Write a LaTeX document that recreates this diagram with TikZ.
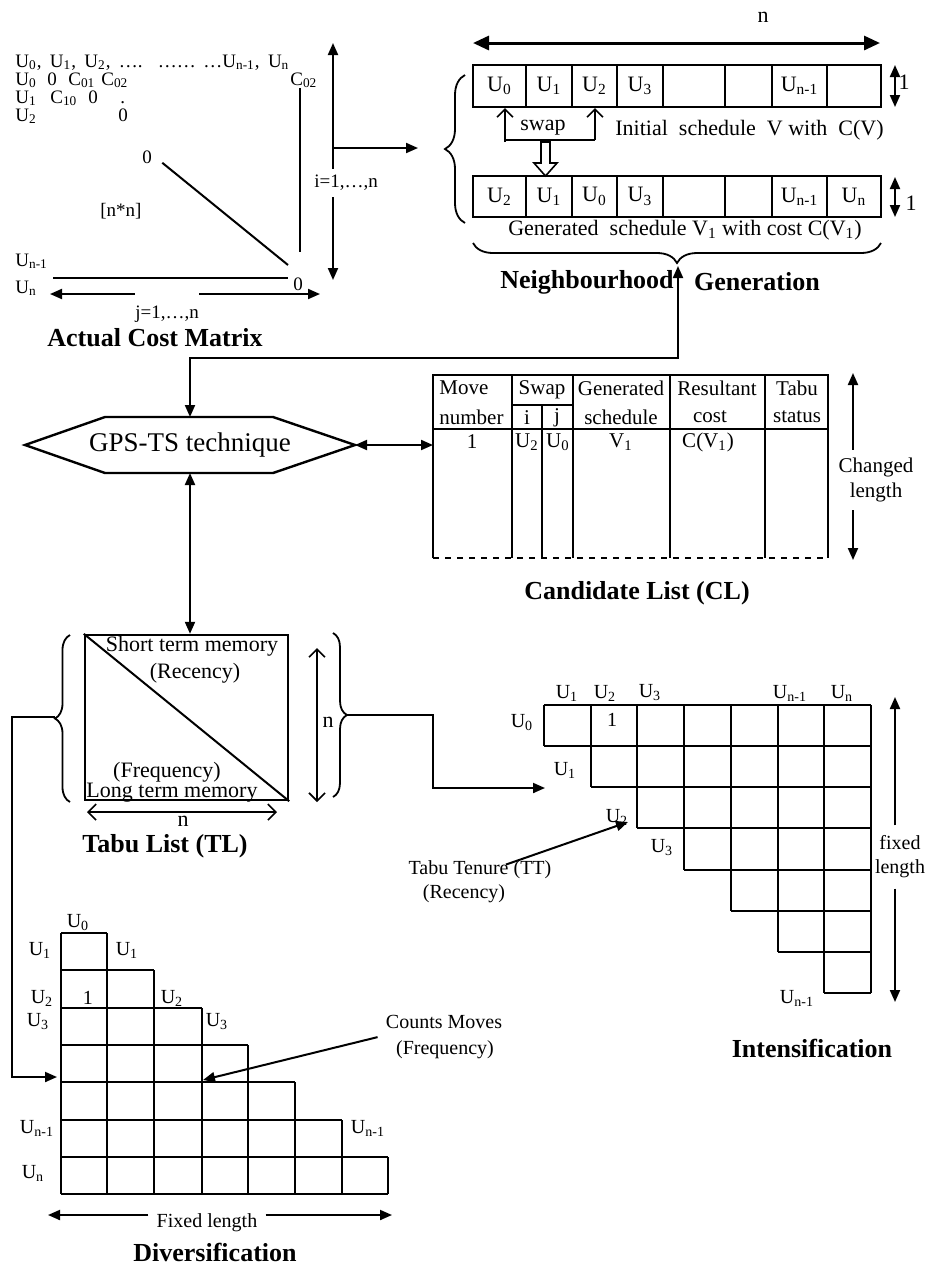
\documentclass[tikz,border=0pt]{standalone}
\usepackage{fontspec}
\setmainfont{Liberation Serif}
\usetikzlibrary{arrows.meta,decorations.pathreplacing}
\newcommand{\Usub}[1]{U\textsubscript{#1}}

\begin{document}
\begin{tikzpicture}[
    x=0.5pt, y=-0.5pt,
    every node/.style={inner sep=0pt, font=\fontsize{11}{13}\selectfont},
    ttl/.style={font=\fontsize{13}{15}\selectfont\bfseries},
    tbl/.style={font=\fontsize{10.5}{12.5}\selectfont},
    mat/.style={font=\fontsize{9.5}{11}\selectfont, anchor=base west},
    glab/.style={font=\fontsize{10}{12}\selectfont},
    cell/.style={draw, line width=1pt, minimum height=21pt},
    conn/.style={line width=1pt},
    gline/.style={line width=0.9pt},
    arr/.style={line width=1pt, -{Triangle[length=6pt,width=5pt]}},
    arrs/.style={line width=1pt, {Triangle[length=6pt,width=5pt]}-{Triangle[length=6pt,width=5pt]}},
    barbs/.style={line width=0.8pt, {Straight Barb[length=4pt,width=8pt]}-{Straight Barb[length=4pt,width=8pt]}},
    barb/.style={line width=0.8pt, -{Straight Barb[length=4pt,width=8pt]}},
    brc/.style={decorate, decoration={brace, amplitude=#1}, line width=0.9pt}
]
\useasboundingbox (0,0) rectangle (936,1266);

% Actual cost matrix
\node[mat] (mhead) at (15,67) {\makebox[137pt][s]{\Usub{0}, \Usub{1}, \Usub{2}, \ldots. \ldots\ldots\ \ldots\Usub{n-1}, \Usub{n}}};
\node[mat] (m00) at (15,85) {\Usub{0}};
\node[mat] (m01) at (47,85) {0};
\node[mat] (m02) at (68,85) {C\textsubscript{01}};
\node[mat] (m03) at (101,85) {C\textsubscript{02}};
\node[mat] (m0n) at (290,85) {C\textsubscript{02}};
\node[mat] (m10) at (15,103) {\Usub{1}};
\node[mat] (m11) at (50,103) {C\textsubscript{10}};
\node[mat] (m12) at (88,103) {0};
\node[mat] (m13) at (120,103) {.};
\node[mat] (m20) at (15,121) {\Usub{2}};
\node[mat] (m22) at (118,121) {0};
\node[mat] (m33) at (142,163) {0};
\node[mat] (msize) at (100,216) {[n*n]};
\node[mat] (mn1) at (15,266) {\Usub{n-1}};
\node[mat] (mn) at (15,293) {\Usub{n}};
\node[mat] (mnn) at (293,290) {0};
\coordinate (dend) at (288,265);
\coordinate (cend) at (300,252);
\draw[conn] ([xshift=5pt,yshift=-3pt]m33.east) -- (dend);
\draw[conn] (cend |- m0n.south) -- (cend);
\draw[conn] (53,278) -- (288,278);

% i and j arrows
\coordinate (itop) at (333,43);
\coordinate (ibot) at (333,280);
\node[font=\fontsize{9.5}{11}\selectfont] (ilab) at (346,183) {i=1,\ldots,n};
\draw[arr] ([yshift=3pt]ilab.north -| itop) -- (itop);
\draw[arr] ([yshift=-3pt]ilab.south -| ibot) -- (ibot);
\coordinate (jl) at (50,294);
\coordinate (jr) at (320,294);
\node[font=\fontsize{9.5}{11}\selectfont] (jlab) at (167,314) {j=1,\ldots,n};
\draw[arr] (jlab.west |- jl) -- (jl);
\draw[arr] (jlab.east |- jl) -- (jr);
\node[ttl] (acm) at (155,338) {Actual Cost Matrix};

% Arrow into neighbourhood
\coordinate (nbtip) at (418,148);
\draw[arr] (itop |- nbtip) -- (nbtip);
\draw[brc=10pt] (465,223) -- (465,75);

% Neighbourhood generation
\node (nlen) at (763,17) {n};
\draw[line width=1.5pt, {Triangle[length=8pt,width=7pt]}-{Triangle[length=8pt,width=7pt]}] (473,43) -- (880,43);

\node[cell, minimum width=26.5pt] (v0) at (499.5,86) {\Usub{0}};
\node[cell, minimum width=23pt] (v1) at (549,86) {\Usub{1}};
\node[cell, minimum width=22.5pt] (v2) at (594.5,86) {\Usub{2}};
\node[cell, minimum width=23pt] (v3) at (640,86) {\Usub{3}};
\node[cell, minimum width=31pt] (v4) at (694,86) {};
\node[cell, minimum width=23.5pt] (v5) at (748.5,86) {};
\node[cell, minimum width=27.5pt] (v6) at (799.5,86) {\Usub{n-1}};
\node[cell, minimum width=27pt] (v7) at (854,86) {};

\node[cell, minimum width=26.5pt, minimum height=20.5pt] (w0) at (499.5,196.5) {\Usub{2}};
\node[cell, minimum width=23pt, minimum height=20.5pt] (w1) at (549,196.5) {\Usub{1}};
\node[cell, minimum width=22.5pt, minimum height=20.5pt] (w2) at (594.5,196.5) {\Usub{0}};
\node[cell, minimum width=23pt, minimum height=20.5pt] (w3) at (640,196.5) {\Usub{3}};
\node[cell, minimum width=31pt, minimum height=20.5pt] (w4) at (694,196.5) {};
\node[cell, minimum width=23.5pt, minimum height=20.5pt] (w5) at (748.5,196.5) {};
\node[cell, minimum width=27.5pt, minimum height=20.5pt] (w6) at (799.5,196.5) {\Usub{n-1}};
\node[cell, minimum width=27pt, minimum height=20.5pt] (w7) at (854,196.5) {\Usub{n}\hspace{11pt}};

% row height arrows
\coordinate (h1t) at (895,65);
\coordinate (h1b) at (895,107);
\draw[arrs] (h1t) -- (h1b);
\node (h1) at (904,82) {1};
\coordinate (h2t) at (895,177);
\coordinate (h2b) at (895,217);
\draw[arrs] (h2t) -- (h2b);
\node (h2) at (911,203) {1};

% swap
\node (swp) at (543,128) {swap};
\coordinate (sl) at (505,142);
\coordinate (sr) at (595,140);
\draw[barb] (sl) -- (sl |- v0.south);
\draw[barb] (sr) -- (sr |- v2.south);
\draw[conn] (sl |- sr) -- (sr);
\node[anchor=west] (init) at (615,130) {Initial\ \ schedule\ \ V with\ \ C(V)};
\draw[line width=0.8pt, fill=white] (541,142) -- (550,142) -- (550,163) -- (557,163) -- (545.5,176) -- (534,163) -- (541,163) -- cycle;
\node (gen) at (685,230) {Generated\ \ schedule V\textsubscript{1} with cost C(V\textsubscript{1})};
\draw[brc=10pt] (881,243) -- (473,243);
\node[ttl] (ngl) at (587,282) {Neighbourhood};
\node[ttl] (ngr) at (757,282) {Generation};

% GPS-TS technique
\node[font=\fontsize{13.5}{16}\selectfont] (gps) at (190,445) {GPS-TS technique};
\draw[line width=1.2pt] (25,445) -- (105,417) -- (273,417) -- (355,445) -- (273,473) -- (105,473) -- cycle;
\coordinate (gpsN) at (190,417);
\coordinate (gpsS) at (190,473);
\coordinate (gpsE) at (355,445);
\coordinate (ngtip) at (678,266);
\coordinate (bend) at (678,358);
\draw[arrs] (ngtip) -- (bend) -| (gpsN);

% Candidate list
\coordinate (clW) at (433,445);
\draw[arrs] (gpsE) -- (clW);
\draw[line width=1.2pt] (433,558) -- (433,375) -- (828,375) -- (828,558);
\draw[line width=1.2pt, dashed] (433,558) -- (828,558);
\draw[line width=1.2pt] (433,429) -- (828,429);
\draw[line width=1.2pt] (512,375) -- (512,558);
\draw[line width=1.2pt] (573,375) -- (573,558);
\draw[line width=1.2pt] (670,375) -- (670,558);
\draw[line width=1.2pt] (765,375) -- (765,558);
\draw[line width=1.2pt] (512,405) -- (573,405);
\draw[line width=1.2pt] (542,405) -- (542,558);
\node[tbl, anchor=west] (c1a) at (439,388) {Move};
\node[tbl, anchor=west] (c1b) at (439,417) {number};
\node[tbl] (c2a) at (542,390) {Swap};
\node[tbl] (c2b) at (527,418) {i};
\node[tbl] (c2c) at (557,418) {j};
\node[tbl] (c3a) at (621,388) {Generated};
\node[tbl] (c3b) at (621,417) {schedule};
\node[tbl] (c4a) at (717,388) {Resultant};
\node[tbl] (c4b) at (710,417) {cost};
\node[tbl] (c5a) at (797,388) {Tabu};
\node[tbl] (c5b) at (797,417) {status};
\node[tbl] (d1) at (472,442) {1};
\node[tbl] (d2) at (527,442) {\Usub{2}};
\node[tbl] (d3) at (558,442) {\Usub{0}};
\node[tbl] (d4) at (621,442) {V\textsubscript{1}};
\node[tbl] (d5) at (708,442) {C(V\textsubscript{1})};
\node[tbl, align=center, font=\fontsize{10.5}{12.5}\selectfont] (chg) at (876,480) {Changed\\length};
\coordinate (ctop) at (853,373);
\coordinate (cbot) at (853,560);
\draw[arr] ([yshift=4pt]chg.north -| ctop) -- (ctop);
\draw[arr] ([yshift=-4pt]chg.south -| cbot) -- (cbot);
\node[ttl] (cll) at (637,593) {Candidate List (CL)};

% Tabu list
\node[draw, line width=1.2pt, minimum width=101.5pt, minimum height=82.5pt] (tl) at (186.5,717.5) {};
\draw[conn] (tl.north west) -- (tl.south east);
\draw[arrs] (gpsS) -- (gpsS |- tl.north);
\node (stm) at (192,646) {Short term memory};
\node (rec) at (195,673) {(Recency)};
\node (frq) at (167,772) {(Frequency)};
\node (ltm) at (172,793) {Long term memory};
\draw[barbs] (317,648) -- (317,802);
\node (tln1) at (328,722) {n};
\draw[barbs] (87,812) -- (277,812);
\node (tln2) at (183,821) {n};
\node[ttl] (tll) at (165,846) {Tabu List (TL)};
\draw[brc=7.5pt] (70,802) -- (70,635);
\draw[brc=7pt] (333,633) -- (333,797);

% links to intensification and diversification
\coordinate (lbt) at (55,717);
\coordinate (rbt) at (347,715);
\coordinate (divin) at (57,1077);
\coordinate (intin) at (545,788);
\draw[arr] (lbt) -- (12,717) |- (divin);
\draw[arr] (rbt) -| ([xshift=-56pt]intin) -- (intin);

% Intensification
\draw[gline] (544,705) -- (871,705);
\draw[gline] (544,746) -- (871,746);
\draw[gline] (591,787) -- (871,787);
\draw[gline] (637,828) -- (871,828);
\draw[gline] (684,870) -- (871,870);
\draw[gline] (731,911) -- (871,911);
\draw[gline] (778,952) -- (871,952);
\draw[gline] (824,993) -- (871,993);
\draw[gline] (544,705) -- (544,746);
\draw[gline] (591,705) -- (591,787);
\draw[gline] (637,705) -- (637,828);
\draw[gline] (684,705) -- (684,870);
\draw[gline] (731,705) -- (731,911);
\draw[gline] (778,705) -- (778,952);
\draw[gline] (824,705) -- (824,993);
\draw[gline] (871,705) -- (871,993);
\node[glab] (it1) at (567,693) {\Usub{1}};
\node[glab] (it2) at (605,693) {\Usub{2}};
\node[glab] (it3) at (650,693) {\Usub{3}};
\node[glab] (it4) at (790,693) {\Usub{n-1}};
\node[glab] (it5) at (842,693) {\Usub{n}};
\node[glab] (il0) at (522,723) {\Usub{0}};
\node[glab] (ione) at (612,720) {1};
\node[glab] (il1) at (565,770) {\Usub{1}};
\node[glab] (il2) at (617,817) {\Usub{2}};
\node[glab] (il3) at (662,848) {\Usub{3}};
\node[glab] (il4) at (797,998) {\Usub{n-1}};
\node[glab] (tt) at (480,870) {Tabu Tenure (TT)};
\node[glab] (ttr) at (464,894) {(Recency)};
\coordinate (tttip) at (628,822);
\draw[arr] ([xshift=13pt,yshift=-2pt]tt.north) -- (tttip);
\node[glab, align=center] (ifl) at (900,857) {fixed\\length};
\coordinate (iftop) at (895,697);
\coordinate (ifbot) at (895,1002);
\draw[arr] ([yshift=5pt]ifl.north -| iftop) -- (iftop);
\draw[arr] ([yshift=-5pt]ifl.south -| ifbot) -- (ifbot);
\node[ttl] (intl) at (812,1048) {Intensification};

% Diversification
\draw[gline] (61,933) -- (107,933);
\draw[gline] (61,970) -- (154,970);
\draw[gline] (61,1008) -- (202,1008);
\draw[gline] (61,1045) -- (248,1045);
\draw[gline] (61,1082) -- (295,1082);
\draw[gline] (61,1120) -- (342,1120);
\draw[gline] (61,1157) -- (388,1157);
\draw[gline] (61,1194) -- (388,1194);
\draw[gline] (61,933) -- (61,1194);
\draw[gline] (107,933) -- (107,1194);
\draw[gline] (154,970) -- (154,1194);
\draw[gline] (202,1008) -- (202,1194);
\draw[gline] (248,1045) -- (248,1194);
\draw[gline] (295,1082) -- (295,1194);
\draw[gline] (342,1120) -- (342,1194);
\draw[gline] (388,1157) -- (388,1194);
\node[glab] (dt0) at (78,923) {\Usub{0}};
\node[glab] (dl1) at (40,950) {\Usub{1}};
\node[glab] (dt1) at (127,950) {\Usub{1}};
\node[glab] (dl2) at (42,998) {\Usub{2}};
\node[glab] (done) at (88,998) {1};
\node[glab] (dt2) at (172,998) {\Usub{2}};
\node[glab] (dl3) at (38,1022) {\Usub{3}};
\node[glab] (dt3) at (217,1022) {\Usub{3}};
\node[glab] (dl4) at (37,1128) {\Usub{n-1}};
\node[glab] (dt4) at (368,1128) {\Usub{n-1}};
\node[glab] (dl5) at (33,1173) {\Usub{n}};
\node[glab] (cm) at (444,1022) {Counts Moves};
\node[glab] (cmf) at (445,1050) {(Frequency)};
\coordinate (cmtip) at (203,1080);
\draw[arr] ([xshift=-4pt,yshift=-4pt]cm.south west) -- (cmtip);
\node[glab] (dfl) at (207,1223) {Fixed length};
\coordinate (dfl1) at (48,1215);
\coordinate (dfl2) at (392,1215);
\draw[arr] ([xshift=-4pt]dfl.west |- dfl1) -- (dfl1);
\draw[arr] ([xshift=4pt]dfl.east |- dfl2) -- (dfl2);
\node[ttl] (dvl) at (215,1252) {Diversification};

\end{tikzpicture}
\end{document}
